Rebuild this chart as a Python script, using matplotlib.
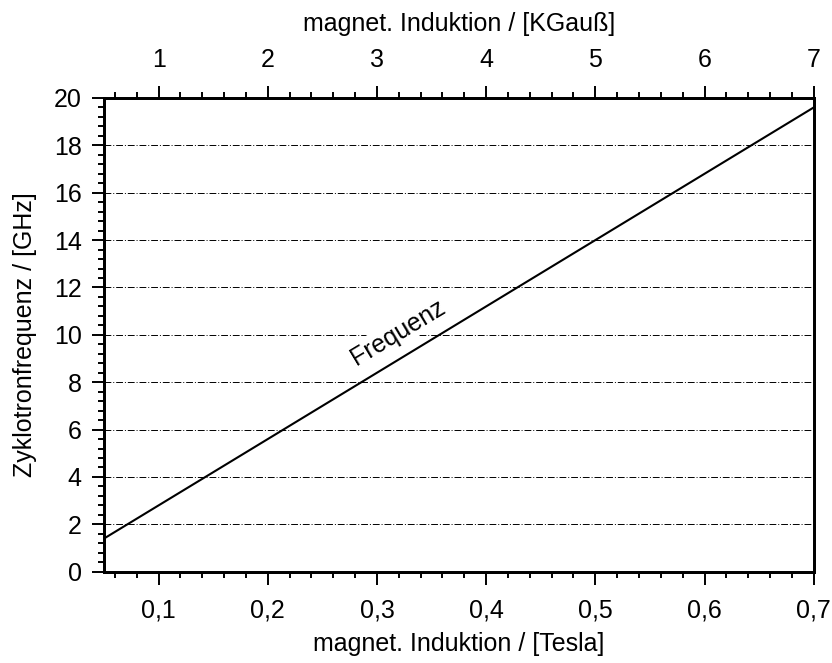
import matplotlib.pyplot as plt
import numpy as np
from matplotlib.ticker import MultipleLocator, FuncFormatter

plt.rcParams['font.family'] = ['Liberation Sans', 'DejaVu Sans']

# magnetic induction (Tesla) and cyclotron frequency (GHz)
b_tesla = [0.05, 0.7]
freq_ghz = [1.4, 19.6]

x_ticks = [0.1, 0.2, 0.3, 0.4, 0.5, 0.6, 0.7]
y_ticks = [0, 2, 4, 6, 8, 10, 12, 14, 16, 18, 20]
top_ticks = [1, 2, 3, 4, 5, 6, 7]

fs = 18

fig = plt.figure(figsize=(8.32, 6.63), dpi=100)
ax = fig.add_axes([0.125, 0.1377, 0.853, 0.7145])

for yv in y_ticks[1:-1]:
    ax.axhline(yv, color='black', lw=0.7, ls=(0, (7, 2, 1, 2)), zorder=1)

ax.plot(b_tesla, freq_ghz, color='black', lw=1.5, zorder=3)

ax.set_xlim(0.05, 0.7)
ax.set_ylim(0, 20)
ax.set_xticks(x_ticks)
ax.set_yticks(y_ticks)
ax.xaxis.set_minor_locator(MultipleLocator(0.02))
ax.yaxis.set_minor_locator(MultipleLocator(0.4))
ax.xaxis.set_major_formatter(FuncFormatter(lambda v, p: f'{v:.1f}'.replace('.', ',')))
ax.tick_params(which='major', direction='out', length=9, width=1.4, labelsize=fs, pad=7)
ax.tick_params(which='minor', direction='out', length=4.5, width=1.4)
ax.tick_params(axis='x', which='major', pad=10)
for s in ax.spines.values():
    s.set_linewidth(2)

ax.set_xlabel('magnet. Induktion / [Tesla]', fontsize=fs, labelpad=7)
ax.set_ylabel('Zyklotronfrequenz / [GHz]', fontsize=fs, labelpad=12)

ax.text(0.319, 10.1, 'Frequenz', fontsize=fs, rotation=31, ha='center', va='center',
        bbox=dict(facecolor='white', edgecolor='none', pad=1), zorder=4)

top = ax.twiny()
top.set_xlim(0.5, 7)
top.set_xticks(top_ticks)
top.xaxis.set_minor_locator(MultipleLocator(0.2))
top.tick_params(which='major', direction='out', length=9, width=1.4, labelsize=fs, pad=10)
top.tick_params(which='minor', direction='out', length=4.5, width=1.4)
top.set_xlabel('magnet. Induktion / [KGauß]', fontsize=fs, labelpad=12)
for s in top.spines.values():
    s.set_linewidth(2)

fig.savefig('out.png', dpi=100)
